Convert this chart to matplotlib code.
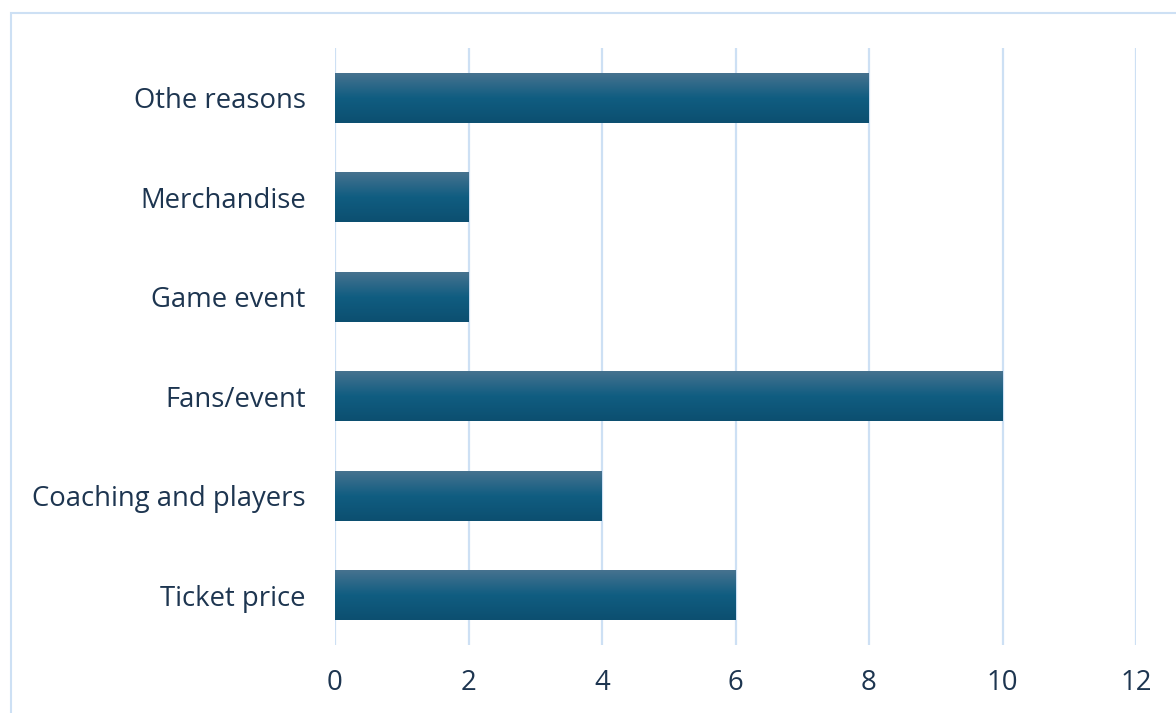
import numpy as np
import matplotlib.pyplot as plt
from matplotlib.colors import LinearSegmentedColormap
from matplotlib.patches import Rectangle

categories = ["Ticket price", "Coaching and players", "Fans/event",
              "Game event", "Merchandise", "Othe reasons"]
counts = [6, 4, 10, 2, 2, 8]
x_ticks = [0, 2, 4, 6, 8, 10, 12]

text_color = "#1d3550"
grid_color = "#cde0f4"

plt.rcParams['font.family'] = ['Open Sans', 'DejaVu Sans']

fig = plt.figure(figsize=(11.76, 7.13), dpi=100)
fig.patches.append(Rectangle((11 / 1176, -0.1), 1.2, 1.1 - 13 / 713,
                             transform=fig.transFigure, fill=False,
                             edgecolor=grid_color, linewidth=1.5))
ax = fig.add_axes([335 / 1176, 1 - 645 / 713, 801 / 1176, 597 / 713])

y = np.arange(len(categories))
bars = ax.barh(y, counts, height=0.5, color="#115e82")

# vertical gradient fill on each bar, lighter at the top
shade = LinearSegmentedColormap.from_list("bar", ["#0c4f70", "#105d81", "#46728f"])
grad = np.linspace(0, 1, 100).reshape(-1, 1)
for b in bars:
    x0, y0, w, h = b.get_x(), b.get_y(), b.get_width(), b.get_height()
    im = ax.imshow(grad, cmap=shade, aspect="auto", origin="lower",
                   extent=[x0, x0 + w, y0, y0 + h], zorder=3)
    im.set_clip_path(b)

ax.set_xlim(0, 12)
ax.set_ylim(-0.5, len(categories) - 0.5)
ax.set_xticks(x_ticks)
ax.set_yticks(y)
ax.set_yticklabels(categories)
ax.xaxis.grid(True, color=grid_color, linewidth=1.6)
ax.set_axisbelow(True)
for s in ax.spines.values():
    s.set_visible(False)
ax.tick_params(axis="both", length=0, labelsize=19.8, colors=text_color)
ax.tick_params(axis="x", pad=17)
ax.tick_params(axis="y", pad=21)

fig.savefig("out.png", dpi=100)
